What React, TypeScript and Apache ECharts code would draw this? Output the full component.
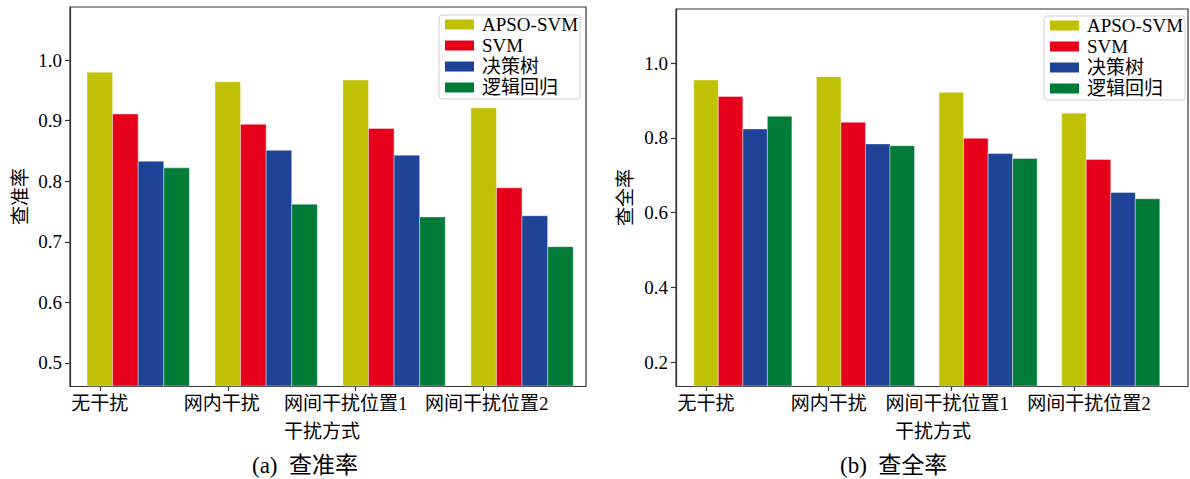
import React, { useEffect, useRef } from "react";
import * as echarts from "echarts";

const categories = ["无干扰", "网内干扰", "网间干扰位置1", "网间干扰位置2"];
const seriesNames = ["APSO-SVM", "SVM", "决策树", "逻辑回归"];
const seriesColors = ["#c0c104", "#e60019", "#1f4396", "#007b38"];

const precisionAPSO = [0.98, 0.964, 0.967, 0.921];
const precisionSVM = [0.911, 0.894, 0.887, 0.789];
const precisionTree = [0.833, 0.851, 0.843, 0.743];
const precisionLogit = [0.822, 0.762, 0.741, 0.692];

const recallAPSO = [0.955, 0.964, 0.922, 0.866];
const recallSVM = [0.911, 0.842, 0.799, 0.742];
const recallTree = [0.824, 0.784, 0.758, 0.654];
const recallLogit = [0.858, 0.779, 0.745, 0.637];

const precisionTicks = [0.5, 0.6, 0.7, 0.8, 0.9, 1.0];
const recallTicks = [0.2, 0.4, 0.6, 0.8, 1.0];
const categoryTicks = [0, 1, 2, 3];

const FONT = "'Liberation Serif', 'Noto Sans CJK SC', serif";
const BAR_W = 0.2;

export default function App() {
  const ref = useRef<HTMLDivElement>(null);

  useEffect(() => {
    document.body.style.margin = "0";
    if (!ref.current) return;
    const chart = echarts.init(ref.current, undefined, { renderer: "svg" });

    const panels = [
      {
        values: [precisionAPSO, precisionSVM, precisionTree, precisionLogit],
        yMin: 0.462,
        yMax: 1.0875,
        xMin: -0.233,
        xMax: 3.8,
        ticks: precisionTicks,
        yName: "查准率",
        grid: { left: 70, top: 7, width: 516, height: 379 },
        yNameGap: 40,
        labelShift: [0, -6, -10, 3],
        nameShift: -6,
      },
      {
        values: [recallAPSO, recallSVM, recallTree, recallLogit],
        yMin: 0.136,
        yMax: 1.145,
        xMin: -0.245,
        xMax: 3.93,
        ticks: recallTicks,
        yName: "查全率",
        grid: { left: 676, top: 9, width: 512, height: 377 },
        yNameGap: 41,
        labelShift: [0, 0, -4, 15],
        nameShift: 1,
      },
    ];

    const axisLineStyle = { color: "#333", width: 1.2 };

    const series: any[] = [];
    panels.forEach((p, pi) => {
      p.values.forEach((vals, k) => {
        series.push({
          type: "custom",
          name: seriesNames[k],
          xAxisIndex: pi,
          yAxisIndex: pi,
          itemStyle: { color: seriesColors[k] },
          data: categories.map((_, i) => [i, vals[i]]),
          renderItem: (params: any, api: any) => {
            const x = api.value(0) + k * BAR_W;
            const y = api.value(1);
            const p0 = api.coord([x - BAR_W / 2, y]);
            const p1 = api.coord([x + BAR_W / 2, p.yMin]);
            return {
              type: "rect",
              shape: { x: p0[0], y: p0[1], width: p1[0] - p0[0], height: p1[1] - p0[1] },
              style: { fill: seriesColors[k], stroke: "#ffffff", lineWidth: 0.4 },
            };
          },
        });
      });
    });

    const labelRich = (shifts: number[]) => {
      const rich: any = {};
      shifts.forEach((d, i) => {
        rich["c" + i] = {
          fontFamily: FONT,
          fontSize: 19,
          color: "#000",
          padding: d >= 0 ? [0, 0, 0, 2 * d] : [0, -2 * d, 0, 0],
        };
      });
      return rich;
    };

    const option: any = {
      animation: false,
      backgroundColor: "#ffffff",
      textStyle: { fontFamily: FONT },
      grid: panels.map((p) => ({ ...p.grid, containLabel: false })),
      xAxis: panels.map((p, pi) => ({
        type: "value",
        gridIndex: pi,
        min: p.xMin,
        max: p.xMax,
        name: "干扰方式",
        nameLocation: "middle",
        nameGap: 36,
        nameTextStyle: {
          fontFamily: FONT,
          fontSize: 19,
          color: "#000",
          padding: p.nameShift >= 0 ? [0, 0, 0, 2 * p.nameShift] : [0, -2 * p.nameShift, 0, 0],
        },
        axisLine: { show: true, onZero: false, lineStyle: axisLineStyle },
        axisTick: { show: true, length: 5, customValues: categoryTicks, lineStyle: axisLineStyle },
        axisLabel: {
          customValues: categoryTicks,
          hideOverlap: false,
          showMinLabel: true,
          showMaxLabel: true,
          formatter: (v: number) => {
            const i = Math.round(v);
            return categories[i] !== undefined ? `{c${i}|${categories[i]}}` : "";
          },
          rich: labelRich(p.labelShift),
          fontFamily: FONT,
          fontSize: 19,
          color: "#000",
          margin: 8,
        },
        splitLine: { show: false },
      })),
      yAxis: panels.map((p, pi) => ({
        type: "value",
        gridIndex: pi,
        min: p.yMin,
        max: p.yMax,
        name: p.yName,
        nameLocation: "middle",
        nameGap: p.yNameGap,
        nameRotate: 90,
        nameTextStyle: { fontFamily: FONT, fontSize: 19, color: "#000" },
        axisLine: { show: true, onZero: false, lineStyle: axisLineStyle },
        axisTick: { show: true, length: 5, customValues: p.ticks, lineStyle: axisLineStyle },
        axisLabel: {
          customValues: p.ticks,
          hideOverlap: false,
          formatter: (v: number) => v.toFixed(1),
          fontFamily: FONT,
          fontSize: 19,
          color: "#000",
          margin: 8,
        },
        splitLine: { show: false },
      })),
      legend: [
        { left: 439, top: 15 },
        { left: 1044, top: 16 },
      ].map((pos) => ({
        ...pos,
        orient: "vertical",
        data: seriesNames,
        icon: "rect",
        itemWidth: 29,
        itemHeight: 10,
        itemGap: 2,
        padding: [0, 2, 2, 6],
        borderColor: "#d0d0d0",
        borderWidth: 1,
        borderRadius: 3,
        backgroundColor: "#ffffff",
        textStyle: {
          fontFamily: FONT,
          fontSize: 19,
          lineHeight: 19,
          color: "#000",
          padding: [0, 0, 0, 3],
        },
      })),
      graphic: [
        {
          type: "polyline",
          silent: true,
          shape: { points: [[70, 386], [70, 7], [586, 7], [586, 386]] },
          style: { stroke: "#333", lineWidth: 1.2, fill: "none" },
        },
        {
          type: "polyline",
          silent: true,
          shape: { points: [[676, 386], [676, 9], [1188, 9], [1188, 386]] },
          style: { stroke: "#333", lineWidth: 1.2, fill: "none" },
        },
        {
          type: "text",
          left: 252,
          top: 454,
          style: { text: "(a)  查准率", font: `23px ${FONT}`, fill: "#000" },
        },
        {
          type: "text",
          left: 840,
          top: 454,
          style: { text: "(b)  查全率", font: `23px ${FONT}`, fill: "#000" },
        },
      ],
      series,
    };

    chart.setOption(option);
    return () => chart.dispose();
  }, []);

  return <div ref={ref} style={{ width: 1190, height: 479 }} />;
}
